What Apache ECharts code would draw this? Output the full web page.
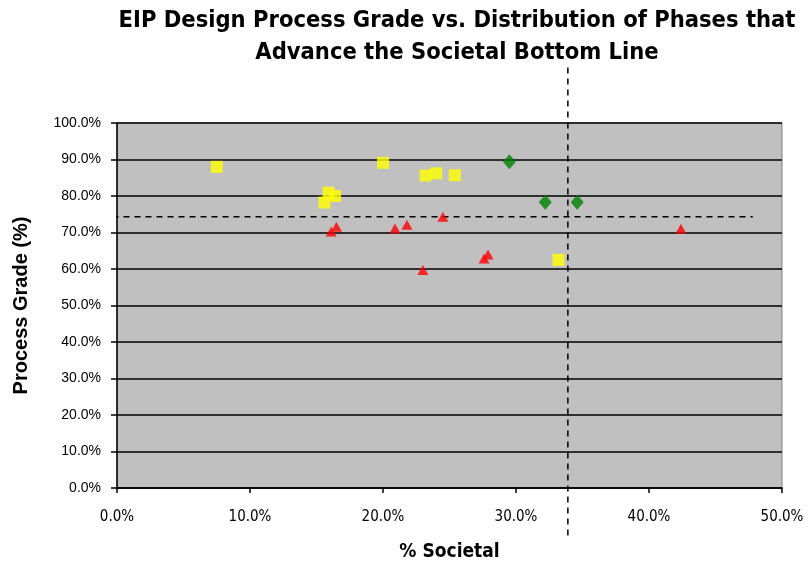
<!DOCTYPE html>
<html><head><meta charset="utf-8">
<script src="https://cdn.jsdelivr.net/npm/echarts@6/dist/echarts.min.js"></script>
<style>html,body{margin:0;padding:0;background:#fff}#c{width:812px;height:567px}</style>
</head><body><div id="c"></div>
<script>
// Data (x: % Societal, y: Process Grade %)
const yellowSquares = [[7.5,88.0],[15.9,80.9],[16.4,80.0],[15.6,78.2],[20.0,89.1],[23.2,85.6],[24.0,86.2],[25.4,85.7],[33.2,62.5]];
const greenDiamonds = [[29.5,89.4],[32.2,78.3],[34.6,78.3]];
const redTriangles = [[16.1,70.3],[16.5,71.6],[20.9,71.1],[21.8,72.1],[24.5,74.3],[23.0,59.7],[27.6,62.9],[27.9,64.0],[42.4,71.0]];
const vRefLine = [[33.9,-13],[33.9,115.5]];
const hRefLine = [[-5.3,74.3],[47.8,74.3]];
const xTicks = [0,10,20,30,40,50];
const yTicks = [0,10,20,30,40,50,60,70,80,90,100];

const chart = echarts.init(document.getElementById('c'), null, {renderer:'canvas'});
const narrow = '"Liberation Sans Narrow","Arial Narrow","DejaVu Sans Condensed",sans-serif';
const sans = '"Liberation Sans",Arial,sans-serif';
chart.setOption({
  animation:false,
  backgroundColor:'#fff',
  title:{
    text:'EIP Design Process Grade vs. Distribution of Phases that\nAdvance the Societal Bottom Line',
    left:452, top:0, textAlign:'center',
    textStyle:{fontFamily:narrow,fontWeight:'bold',fontSize:23.5,lineHeight:32,color:'#000'}
  },
  grid:{left:117,right:30,top:123,bottom:79,show:true,backgroundColor:'#C0C0C0',borderColor:'#808080',borderWidth:1},
  xAxis:{
    type:'value',min:xTicks[0],max:xTicks[xTicks.length-1],interval:10,
    name:'% Societal',nameLocation:'middle',nameGap:55,
    nameTextStyle:{fontFamily:narrow,fontWeight:'bold',fontSize:19,color:'#000'},
    axisLine:{show:true,onZero:false,lineStyle:{color:'#000',width:1.5}},
    axisTick:{show:true,length:5,lineStyle:{color:'#000',width:1.5}},
    axisLabel:{fontFamily:narrow,fontSize:15,color:'#000',margin:22,formatter:v=>v.toFixed(1)+'%'},
    splitLine:{show:false}
  },
  yAxis:{
    type:'value',min:yTicks[0],max:yTicks[yTicks.length-1],interval:10,
    name:'Process Grade (%)',nameLocation:'middle',nameGap:86,
    nameTextStyle:{fontFamily:sans,fontWeight:'bold',fontSize:20,color:'#000'},
    axisLine:{show:true,onZero:false,lineStyle:{color:'#000',width:1.5}},
    axisTick:{show:true,length:6,lineStyle:{color:'#000',width:1.5}},
    axisLabel:{fontFamily:sans,fontSize:14,color:'#000',margin:16,formatter:v=>v.toFixed(1)+'%'},
    splitLine:{show:true,lineStyle:{color:'#000',width:1.5}}
  },
  series:[
    {type:'line',data:vRefLine,clip:false,symbol:'none',z:5,lineStyle:{color:'#000',width:1.5,type:[6,5]},silent:true},
    {type:'line',data:hRefLine,clip:false,symbol:'none',z:5,lineStyle:{color:'#000',width:1.5,type:[6,5]},silent:true},
    {type:'scatter',data:yellowSquares,symbol:'rect',symbolSize:12,itemStyle:{color:'#FFFF00'},z:10},
    {type:'scatter',data:greenDiamonds,symbol:'diamond',symbolSize:[13,15],itemStyle:{color:'#008000'},z:10},
    {type:'scatter',data:redTriangles,symbol:'triangle',symbolSize:[11,10],itemStyle:{color:'#FF0000'},z:10}
  ]
});
</script></body></html>
